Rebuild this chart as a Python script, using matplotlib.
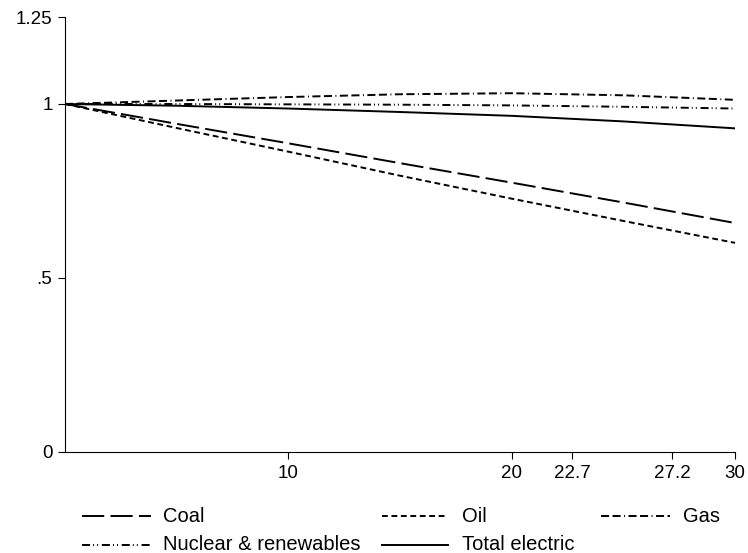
import matplotlib
matplotlib.use("Agg")
import matplotlib.pyplot as plt
from matplotlib.lines import Line2D

plt.rcParams['font.family'] = ['Liberation Sans', 'DejaVu Sans']
plt.rcParams['lines.scale_dashes'] = False

years = [0, 5, 10, 15, 20, 25, 30]
coal = [1.0, 0.943, 0.887, 0.830, 0.774, 0.717, 0.658]
oil = [1.0, 0.931, 0.863, 0.794, 0.728, 0.664, 0.601]
gas = [1.0, 1.010, 1.020, 1.028, 1.031, 1.025, 1.012]
nuclear = [1.0, 1.0, 0.999, 0.998, 0.996, 0.992, 0.987]
total = [1.0, 0.995, 0.987, 0.977, 0.966, 0.950, 0.930]

series_names = ["Coal", "Oil", "Gas", "Nuclear & renewables", "Total electric"]
xticks = [10, 20, 22.7, 27.2, 30]
xtick_labels = ["10", "20", "22.7", "27.2", "30"]
yticks = [0, 0.5, 1, 1.25]
ytick_labels = ["0", ".5", "1", "1.25"]

styles = {
    "Coal": dict(dashes=(16, 4.5)),
    "Oil": dict(dashes=(4.2, 2.6)),
    "Gas": dict(dashes=(5.8, 2.5, 5.8, 2.5, 0.7, 2.5)),
    "Nuclear & renewables": dict(dashes=(5.8, 2.2, 0.7, 2.2, 0.7, 2.7)),
    "Total electric": dict(linestyle='-'),
}
data = dict(zip(series_names, [coal, oil, gas, nuclear, total]))

fig = plt.figure(figsize=(7.48, 5.53), dpi=100)
ax = fig.add_axes([65/748, 1-452/553, (735-65)/748, (452-17)/553])

lw = 1.4
for name in series_names:
    ax.plot(years, data[name], color='black', lw=lw, **styles[name])

ax.set_xlim(0, 30)
ax.set_ylim(0, 1.25)
ax.set_xticks(xticks)
ax.set_xticklabels(xtick_labels)
ax.set_yticks(yticks)
ax.set_yticklabels(ytick_labels)
for s in ['top', 'right']:
    ax.spines[s].set_visible(False)
for s in ['left', 'bottom']:
    ax.spines[s].set_linewidth(0.8)
ax.tick_params(direction='out', length=5, width=0.8, labelsize=13.5, pad=4)

# legend (manual layout, Stata style)
W, H = 748, 553
entries = [
    ("Coal", 82, 151, 163, 516),
    ("Oil", 382, 448, 462, 516),
    ("Gas", 601, 670, 683, 516),
    ("Nuclear & renewables", 82, 151, 163, 545),
    ("Total electric", 382, 448, 462, 545),
]
for name, x0, x1, xt, yp in entries:
    y = 1 - yp / H
    fig.add_artist(Line2D([x0 / W, x1 / W], [y, y], transform=fig.transFigure,
                          color='black', lw=lw, **styles[name]))
    fig.text(xt / W, y, name, fontsize=14.5, va='center', ha='left')

fig.savefig("out.png", dpi=100)
